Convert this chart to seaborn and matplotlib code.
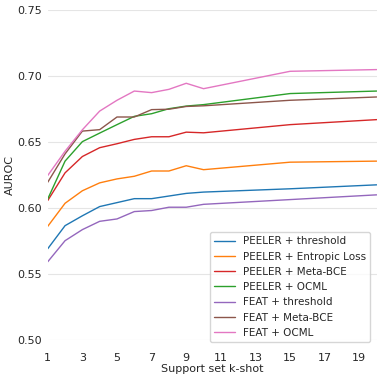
import matplotlib
matplotlib.use("Agg")
import matplotlib.pyplot as plt
import seaborn as sns
import pandas as pd

# -----------------------------
# DATA
# -----------------------------
k_shot = [1, 2, 3, 4, 5, 6, 7, 8, 9, 10, 15, 20]

peeler_threshold = [0.569, 0.5865, 0.594, 0.601, 0.604, 0.607, 0.607, 0.609, 0.611, 0.612, 0.6145, 0.6175]
peeler_entropic = [0.586, 0.6035, 0.613, 0.619, 0.622, 0.624, 0.628, 0.628, 0.632, 0.629, 0.6347, 0.6355]
peeler_metabce = [0.6056, 0.6266, 0.639, 0.6457, 0.6487, 0.652, 0.654, 0.654, 0.6575, 0.657, 0.6632, 0.667]
peeler_ocml = [0.6068, 0.6355, 0.6503, 0.6568, 0.6632, 0.6695, 0.6715, 0.6753, 0.6773, 0.6784, 0.6868, 0.6887]
feat_threshold = [0.5591, 0.5751, 0.5835, 0.5898, 0.5916, 0.5972, 0.598, 0.6005, 0.6005, 0.6027, 0.6063, 0.6099]
feat_metabce = [0.6195, 0.641, 0.6583, 0.6594, 0.669, 0.669, 0.6746, 0.6749, 0.677, 0.6775, 0.6817, 0.6842]
feat_ocml = [0.6246, 0.643, 0.6593, 0.6735, 0.6817, 0.6887, 0.6875, 0.690, 0.6946, 0.6905, 0.7037, 0.705]

methods = ["PEELER + threshold", "PEELER + Entropic Loss", "PEELER + Meta-BCE",
           "PEELER + OCML", "FEAT + threshold", "FEAT + Meta-BCE", "FEAT + OCML"]
series = [peeler_threshold, peeler_entropic, peeler_metabce, peeler_ocml,
          feat_threshold, feat_metabce, feat_ocml]
colors = ["tab:blue", "tab:orange", "tab:red", "tab:green",
          "tab:purple", "tab:brown", "tab:pink"]

rows = []
for name, vals in zip(methods, series):
    for k, v in zip(k_shot, vals):
        rows.append({"k": k, "auroc": v, "method": name})
df = pd.DataFrame(rows)

# -----------------------------
# PLOT
# -----------------------------
sns.set_theme(style="whitegrid")
plt.rcParams['font.family'] = ['DejaVu Sans']

fig = plt.figure(figsize=(3.82, 3.82), dpi=100)
ax = fig.add_axes([0.125, 0.111, 0.861, 0.862])

sns.lineplot(data=df, x="k", y="auroc", hue="method", hue_order=methods,
             palette=colors, linewidth=1.0, ax=ax)

ax.set_xlim(1, 20)
ax.set_ylim(0.5, 0.75)
ax.set_xticks([1, 3, 5, 7, 9, 11, 13, 15, 17, 19])
ax.set_yticks([0.50, 0.55, 0.60, 0.65, 0.70, 0.75])
ax.set_yticklabels(["0.50", "0.55", "0.60", "0.65", "0.70", "0.75"])
ax.tick_params(labelsize=8, length=0)
ax.tick_params(axis="y", pad=4)
ax.tick_params(axis="x", pad=9.5)
ax.xaxis.grid(False)
ax.yaxis.grid(True, color="#e5e5e5", linewidth=0.8)
sns.despine(ax=ax, left=True, bottom=True)
ax.set_xlabel("Support set k-shot", fontsize=8, labelpad=1)
ax.set_ylabel("AUROC", fontsize=8, labelpad=1.5)

ax.legend(loc="lower right", fontsize=7.5, frameon=True, title=None,
          bbox_to_anchor=(0.969, 0.105), bbox_transform=fig.transFigure,
          borderaxespad=0)

fig.savefig("out.png", dpi=100)
